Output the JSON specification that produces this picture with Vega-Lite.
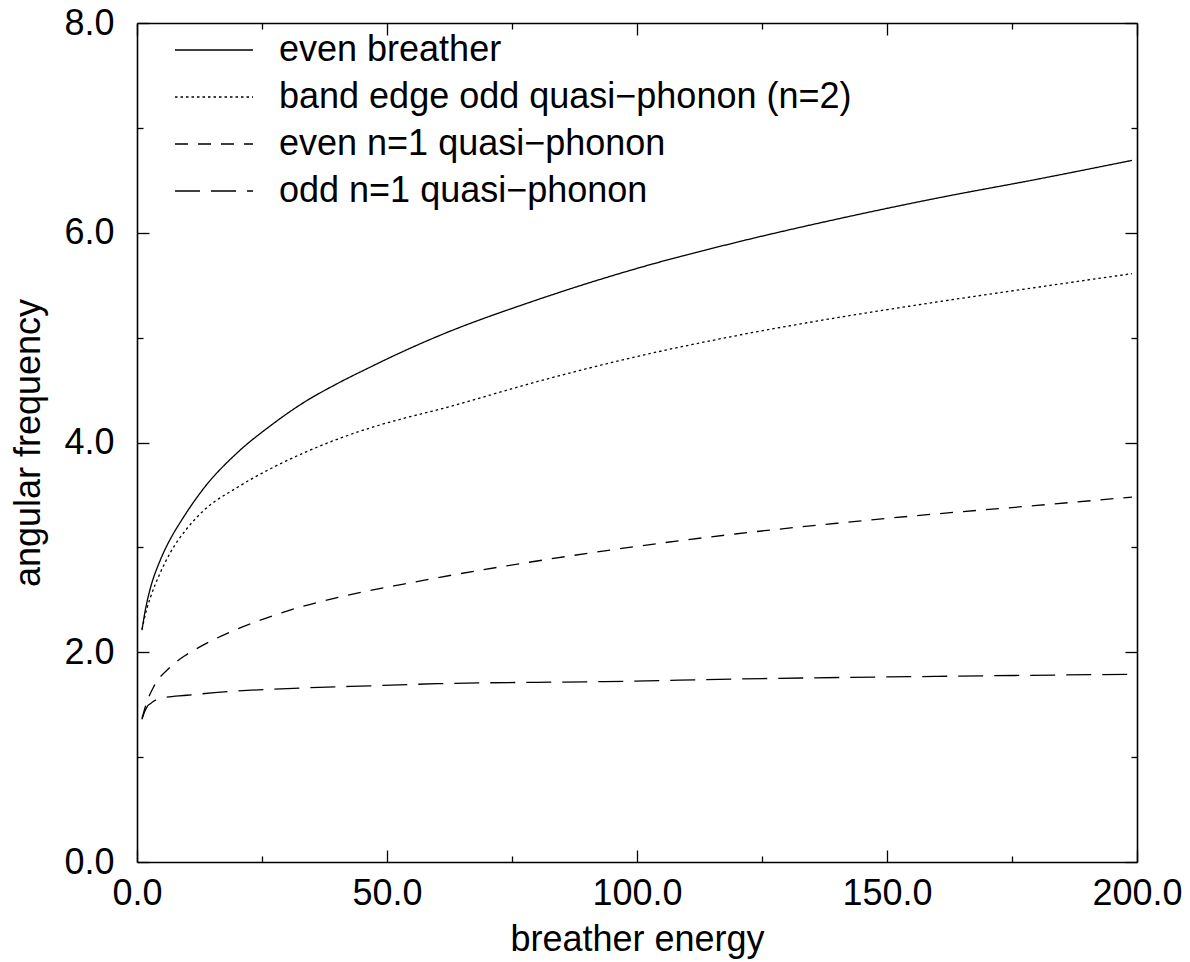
{
  "$schema": "https://vega.github.io/schema/vega-lite/v6.json",
  "width": 1000,
  "height": 839,
  "autosize": {"type": "none"},
  "padding": {"left": 137, "top": 23, "right": 53, "bottom": 100},
  "background": "white",
  "config": {
    "view": {"stroke": null},
    "font": "Liberation Sans",
    "axis": {"grid": false, "domainColor": "black", "domainWidth": 1.6, "tickColor": "black", "tickWidth": 1.3, "labelColor": "black", "titleColor": "black", "labelFont": "Liberation Sans", "titleFont": "Liberation Sans", "labelFontSize": 36, "titleFontSize": 36, "titleFontWeight": "normal", "labelFlush": false, "labelOverlap": false}
  },
  "datasets": {
    "curves": [
      {"series": "even breather", "E": 1.0, "w": 2.21},
      {"series": "even breather", "E": 1.5, "w": 2.36},
      {"series": "even breather", "E": 2.0, "w": 2.48},
      {"series": "even breather", "E": 2.67, "w": 2.61},
      {"series": "even breather", "E": 4.67, "w": 2.88},
      {"series": "even breather", "E": 6.67, "w": 3.08},
      {"series": "even breather", "E": 8.67, "w": 3.24},
      {"series": "even breather", "E": 13.3, "w": 3.56},
      {"series": "even breather", "E": 20, "w": 3.9},
      {"series": "even breather", "E": 26.7, "w": 4.16},
      {"series": "even breather", "E": 33.3, "w": 4.38},
      {"series": "even breather", "E": 40, "w": 4.56},
      {"series": "even breather", "E": 46.7, "w": 4.72},
      {"series": "even breather", "E": 53.3, "w": 4.87},
      {"series": "even breather", "E": 60, "w": 5.01},
      {"series": "even breather", "E": 80, "w": 5.36},
      {"series": "even breather", "E": 100, "w": 5.66},
      {"series": "even breather", "E": 120, "w": 5.91},
      {"series": "even breather", "E": 140, "w": 6.13},
      {"series": "even breather", "E": 160, "w": 6.33},
      {"series": "even breather", "E": 180, "w": 6.51},
      {"series": "even breather", "E": 199, "w": 6.69},
      {"series": "band edge odd quasi−phonon (n=2)", "E": 1.0, "w": 2.22},
      {"series": "band edge odd quasi−phonon (n=2)", "E": 2.0, "w": 2.42},
      {"series": "band edge odd quasi−phonon (n=2)", "E": 2.67, "w": 2.52},
      {"series": "band edge odd quasi−phonon (n=2)", "E": 4.67, "w": 2.76},
      {"series": "band edge odd quasi−phonon (n=2)", "E": 6.67, "w": 2.95},
      {"series": "band edge odd quasi−phonon (n=2)", "E": 10, "w": 3.18},
      {"series": "band edge odd quasi−phonon (n=2)", "E": 13.3, "w": 3.35},
      {"series": "band edge odd quasi−phonon (n=2)", "E": 20, "w": 3.57},
      {"series": "band edge odd quasi−phonon (n=2)", "E": 26.7, "w": 3.75},
      {"series": "band edge odd quasi−phonon (n=2)", "E": 33.3, "w": 3.9},
      {"series": "band edge odd quasi−phonon (n=2)", "E": 40, "w": 4.03},
      {"series": "band edge odd quasi−phonon (n=2)", "E": 46.7, "w": 4.14},
      {"series": "band edge odd quasi−phonon (n=2)", "E": 53.3, "w": 4.23},
      {"series": "band edge odd quasi−phonon (n=2)", "E": 60, "w": 4.31},
      {"series": "band edge odd quasi−phonon (n=2)", "E": 80, "w": 4.58},
      {"series": "band edge odd quasi−phonon (n=2)", "E": 100, "w": 4.82},
      {"series": "band edge odd quasi−phonon (n=2)", "E": 120, "w": 5.02},
      {"series": "band edge odd quasi−phonon (n=2)", "E": 140, "w": 5.19},
      {"series": "band edge odd quasi−phonon (n=2)", "E": 160, "w": 5.34},
      {"series": "band edge odd quasi−phonon (n=2)", "E": 180, "w": 5.48},
      {"series": "band edge odd quasi−phonon (n=2)", "E": 199, "w": 5.61},
      {"series": "even n=1 quasi−phonon", "E": 1.0, "w": 1.37},
      {"series": "even n=1 quasi−phonon", "E": 2.0, "w": 1.53},
      {"series": "even n=1 quasi−phonon", "E": 3.33, "w": 1.67},
      {"series": "even n=1 quasi−phonon", "E": 6.67, "w": 1.86},
      {"series": "even n=1 quasi−phonon", "E": 10, "w": 1.98},
      {"series": "even n=1 quasi−phonon", "E": 13.3, "w": 2.07},
      {"series": "even n=1 quasi−phonon", "E": 20, "w": 2.22},
      {"series": "even n=1 quasi−phonon", "E": 26.7, "w": 2.34},
      {"series": "even n=1 quasi−phonon", "E": 33.3, "w": 2.44},
      {"series": "even n=1 quasi−phonon", "E": 40, "w": 2.52},
      {"series": "even n=1 quasi−phonon", "E": 46.7, "w": 2.59},
      {"series": "even n=1 quasi−phonon", "E": 53.3, "w": 2.65},
      {"series": "even n=1 quasi−phonon", "E": 60, "w": 2.71},
      {"series": "even n=1 quasi−phonon", "E": 80, "w": 2.87},
      {"series": "even n=1 quasi−phonon", "E": 100, "w": 3.01},
      {"series": "even n=1 quasi−phonon", "E": 120, "w": 3.13},
      {"series": "even n=1 quasi−phonon", "E": 140, "w": 3.23},
      {"series": "even n=1 quasi−phonon", "E": 160, "w": 3.32},
      {"series": "even n=1 quasi−phonon", "E": 180, "w": 3.4},
      {"series": "even n=1 quasi−phonon", "E": 199, "w": 3.48},
      {"series": "odd n=1 quasi−phonon", "E": 1.0, "w": 1.36},
      {"series": "odd n=1 quasi−phonon", "E": 1.5, "w": 1.43},
      {"series": "odd n=1 quasi−phonon", "E": 2.0, "w": 1.48},
      {"series": "odd n=1 quasi−phonon", "E": 2.67, "w": 1.51},
      {"series": "odd n=1 quasi−phonon", "E": 4.67, "w": 1.56},
      {"series": "odd n=1 quasi−phonon", "E": 10, "w": 1.59},
      {"series": "odd n=1 quasi−phonon", "E": 20, "w": 1.63},
      {"series": "odd n=1 quasi−phonon", "E": 33.3, "w": 1.66},
      {"series": "odd n=1 quasi−phonon", "E": 46.7, "w": 1.68},
      {"series": "odd n=1 quasi−phonon", "E": 60, "w": 1.7},
      {"series": "odd n=1 quasi−phonon", "E": 93.3, "w": 1.72},
      {"series": "odd n=1 quasi−phonon", "E": 126.7, "w": 1.75},
      {"series": "odd n=1 quasi−phonon", "E": 160, "w": 1.77},
      {"series": "odd n=1 quasi−phonon", "E": 199, "w": 1.79}
    ]
  },
  "data": {"name": "curves"},
  "layer": [
    {
      "mark": {"type": "line", "color": "black", "strokeWidth": 1.3, "interpolate": "monotone"},
      "encoding": {
        "x": {"field": "E", "type": "quantitative", "scale": {"domain": [0, 200], "nice": false, "zero": false},
          "axis": {"orient": "bottom", "values": [0, 50, 100, 150, 200], "format": ".1f", "tickSize": -12, "labelPadding": 26, "title": "breather energy", "titlePadding": 11}},
        "y": {"field": "w", "type": "quantitative", "scale": {"domain": [0, 8], "nice": false, "zero": false},
          "axis": {"orient": "left", "values": [0, 2, 4, 6, 8], "format": ".1f", "tickSize": -12, "labelPadding": 35, "title": "angular frequency", "titlePadding": 16}},
        "strokeDash": {"field": "series", "type": "nominal",
          "scale": {"domain": ["even breather", "band edge odd quasi−phonon (n=2)", "even n=1 quasi−phonon", "odd n=1 quasi−phonon"],
                    "range": [[1, 0], [2.5, 3], [13, 10], [25, 11]]},
          "legend": {"orient": "none", "legendX": 37, "legendY": 7, "title": null, "symbolType": "stroke", "symbolSize": 6084, "symbolStrokeWidth": 1.3, "symbolStrokeColor": "black", "labelFontSize": 36, "labelFont": "Liberation Sans", "labelColor": "black", "labelOffset": 25, "clipHeight": 40, "rowPadding": 7, "padding": 0, "labelLimit": 1000}}
      }
    },
    {
      "mark": {"type": "point", "opacity": 0},
      "encoding": {
        "x": {"field": "E", "type": "quantitative", "axis": {"orient": "top", "values": [0, 50, 100, 150, 200], "tickSize": -12, "labels": false, "title": null}},
        "y": {"field": "w", "type": "quantitative", "axis": {"orient": "right", "values": [0, 2, 4, 6, 8], "tickSize": -12, "labels": false, "title": null}}
      }
    },
    {
      "mark": {"type": "point", "opacity": 0},
      "encoding": {
        "x": {"field": "E", "type": "quantitative", "axis": {"orient": "bottom", "values": [25, 75, 125, 175], "tickSize": -6, "labels": false, "domain": false, "title": null}},
        "y": {"field": "w", "type": "quantitative", "axis": {"orient": "left", "values": [1, 3, 5, 7], "tickSize": -6, "labels": false, "domain": false, "title": null}}
      }
    },
    {
      "mark": {"type": "point", "opacity": 0},
      "encoding": {
        "x": {"field": "E", "type": "quantitative", "axis": {"orient": "top", "values": [25, 75, 125, 175], "tickSize": -6, "labels": false, "domain": false, "title": null}},
        "y": {"field": "w", "type": "quantitative", "axis": {"orient": "right", "values": [1, 3, 5, 7], "tickSize": -6, "labels": false, "domain": false, "title": null}}
      }
    }
  ],
  "resolve": {"axis": {"x": "independent", "y": "independent"}}
}
